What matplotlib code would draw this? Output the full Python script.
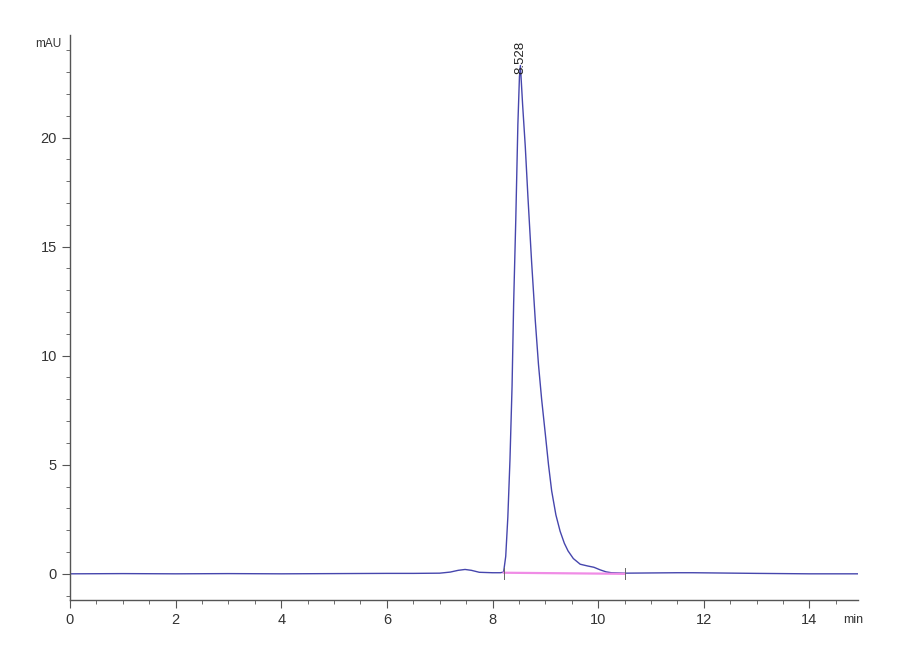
import matplotlib.pyplot as plt
from matplotlib.ticker import MultipleLocator

# retention time (min) and detector signal (mAU)
time = [0.0, 1.0, 2.0, 3.0, 4.0, 5.0, 6.0, 6.5, 7.0, 7.2, 7.35, 7.48, 7.6, 7.75,
        8.0, 8.15, 8.21, 8.25, 8.29, 8.33, 8.37, 8.40, 8.44, 8.48, 8.51, 8.528,
        8.57, 8.62, 8.67, 8.74, 8.81, 8.87, 8.93, 9.0, 9.06, 9.12, 9.2, 9.28,
        9.36, 9.43, 9.53, 9.66, 9.8, 9.92, 10.04, 10.15, 10.25, 10.5, 11.0,
        11.5, 11.8, 12.2, 13.0, 14.0, 14.92]
signal = [0.0, 0.01, 0.0, 0.01, 0.0, 0.01, 0.02, 0.02, 0.03, 0.08, 0.16, 0.2,
          0.16, 0.07, 0.05, 0.05, 0.08, 0.8, 2.6, 5.2, 8.6, 12.4, 16.2, 20.6,
          22.8, 23.3, 21.5, 19.6, 17.3, 14.3, 11.6, 9.6, 8.0, 6.4, 5.0, 3.8,
          2.7, 1.95, 1.4, 1.05, 0.7, 0.44, 0.36, 0.3, 0.18, 0.09, 0.05, 0.03,
          0.04, 0.05, 0.05, 0.04, 0.02, 0.0, 0.0]

# integration baseline under the peak
base_t = [8.21, 10.5]
base_y = [0.05, 0.0]

peak_time = 8.528
peak_label = "8.528"

plt.rcParams['font.family'] = ['Liberation Sans Narrow', 'Liberation Sans', 'DejaVu Sans']

fig = plt.figure(figsize=(9, 6.6), dpi=100)
ax = fig.add_axes([70 / 900, 60 / 660, 788 / 900, 565 / 660])

ax.plot(time, signal, color='#4646ad', lw=1.0)
ax.plot(base_t, base_y, color='#f08ce6', lw=1.6)
# small integration marks at start and end
for t in base_t:
    ax.plot([t, t], [0.25, -0.25], color='#666666', lw=0.7)

ax.text(peak_time, 22.9, peak_label, rotation=90, ha='center', va='bottom',
        fontsize=9.5, color='#222222')

ax.set_xlim(0, 14.92)
ax.set_ylim(-1.2, 24.7)
ax.xaxis.set_major_locator(MultipleLocator(2))
ax.xaxis.set_minor_locator(MultipleLocator(0.5))
ax.yaxis.set_major_locator(MultipleLocator(5))
ax.yaxis.set_minor_locator(MultipleLocator(1))

for s in ['top', 'right']:
    ax.spines[s].set_visible(False)
for s in ['left', 'bottom']:
    ax.spines[s].set_color('#555555')
    ax.spines[s].set_linewidth(1.0)

ax.tick_params(which='major', length=6, color='#555555', labelsize=10.5,
               labelcolor='#333333')
ax.tick_params(which='minor', length=3, color='#555555')

fig.text(35 / 900, 1 - 44 / 660, "mAU", fontsize=8.5, color='#333333',
         ha='left', va='center')
fig.text(843 / 900, 1 - 620 / 660, "min", fontsize=9, color='#333333',
         ha='left', va='center')

fig.savefig("out.png", dpi=100, facecolor='white')
